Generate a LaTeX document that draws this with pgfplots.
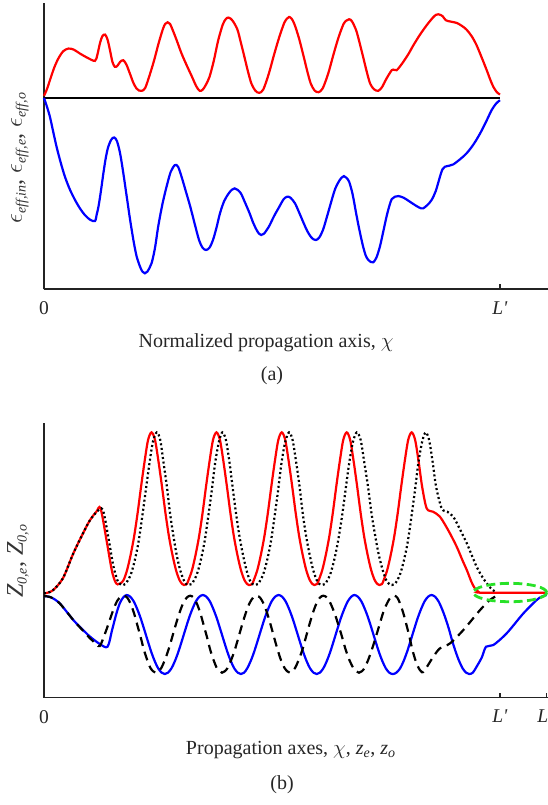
\documentclass[border=0pt]{standalone}
\usepackage{amsmath}
\usepackage{fontspec}
\setmainfont{Liberation Serif}
\usepackage{pgfplots}
\pgfplotsset{compat=1.18}

\definecolor{curvered}{rgb}{1,0,0}
\definecolor{curveblue}{rgb}{0,0,1}
\definecolor{markgreen}{RGB}{40,225,40}
\definecolor{axisgray}{RGB}{35,35,35}

% symbol with a smaller italic subscript
\newcommand{\sub}[1]{\text{\fontsize{14bp}{14bp}\selectfont\itshape #1}}

\pgfplotsset{
  profile/.style={
    scale only axis, width=504bp,
    axis x line=bottom, axis y line=left,
    axis line style={-, line width=1.6bp, axisgray},
    xmin=0, xmax=1443.5,
    ytick=\empty,
    xtick align=inside,
    major tick length=5bp,
    tick style={line width=1.4bp, axisgray},
    xticklabel style={font=\fontsize{19.5bp}{22bp}\selectfont, text=black!85, yshift=-9bp},
    label style={font=\fontsize{20bp}{24bp}\selectfont, text=black!85},
    ylabel style={font=\fontsize{24bp}{26bp}\selectfont, text=black!80},
    clip=false,
  },
  curve/.style={smooth, tension=0.5, line width=2.2bp},
}

\begin{document}
\begin{tikzpicture}

% (a) effective permittivities along the normalized axis
\begin{axis}[profile,
  at={(44bp,515.7bp)}, anchor=south west, height=286bp,
  ymin=-575, ymax=284,
  xtick={0,1306}, xticklabels={0,\textit{L\textquotesingle}},
  xlabel={Normalized propagation axis, $\chi$},
  xlabel style={at={(axis description cs:0.4405,0)}, anchor=center, yshift=-53bp},
  ylabel={$\epsilon_{\sub{eff,in}}$, $\epsilon_{\sub{eff,e}}$, $\epsilon_{\sub{eff,o}}$},
  ylabel style={at={(axis description cs:-0.0476,0.459)}, anchor=center},
]
\addplot[black, line width=2.6bp] coordinates {(0,0) (1306,0)};
\addplot[curve, curvered] coordinates {
(0,6) (8,25) (17,53) (29,90) (41,118) (55,140) (70,148) (85,145) (103,133) (125,120)
(146,111) (153,130) (160,163) (167,185) (175,190) (182,175) (189,143) (196,108) (203,93)
(210,96) (218,108) (227,113) (236,100) (246,73) (256,45) (265,28) (272,22) (280,21)
(290,30) (304,73) (316,115) (328,163) (340,205) (347,222) (354,227) (361,222) (370,200)
(380,173) (394,133) (409,97) (424,63) (436,35) (446,21) (455,25) (464,40) (474,63)
(486,110) (499,173) (512,220) (521,237) (529,241) (540,232) (554,205) (564,165) (574,123)
(584,80) (594,43) (605,22) (616,15) (628,25) (644,73) (659,130) (674,183) (688,225)
(696,238) (702,243) (709,238) (717,222) (730,180) (744,123) (754,80) (764,43) (775,22)
(786,17) (798,28) (814,73) (829,130) (844,183) (858,222) (866,232) (874,236) (882,230)
(894,203) (904,165) (914,123) (924,80) (934,43) (945,26) (957,21) (968,32) (981,58)
(996,83) (1003,84) (1010,83) (1020,95) (1029,108) (1044,132) (1058,158) (1077,190)
(1096,218) (1113,240) (1122,249) (1129,251) (1136,249) (1142,245) (1151,233) (1165,229)
(1182,225) (1197,216) (1210,205) (1225,185) (1239,158) (1254,120) (1268,83) (1278,55)
(1287,33) (1297,17) (1306,10)};
\addplot[curve, curveblue] coordinates {
(0,0) (8,-25) (17,-57) (26,-100) (36,-147) (48,-195) (60,-237) (74,-275) (89,-307)
(103,-332) (117,-352) (132,-366) (146,-370) (151,-350) (156,-327) (163,-280) (170,-227)
(177,-180) (184,-147) (193,-125) (201,-119) (209,-130) (218,-167) (227,-225) (237,-297)
(246,-362) (256,-427) (265,-475) (275,-507) (282,-522) (289,-527) (296,-522) (308,-497)
(318,-450) (327,-387) (339,-320) (351,-267) (363,-222) (375,-202) (384,-207) (394,-237)
(406,-280) (419,-327) (432,-380) (444,-427) (454,-450) (464,-457) (474,-450) (484,-427)
(494,-390) (504,-347) (516,-310) (529,-287) (538,-276) (546,-272) (554,-276) (564,-287)
(576,-315) (589,-347) (599,-375) (609,-397) (616,-408) (622,-412) (630,-408) (644,-387)
(659,-355) (674,-327) (686,-305) (696,-297) (706,-300) (719,-317) (731,-345) (744,-377)
(754,-400) (764,-417) (772,-425) (779,-427) (788,-420) (799,-397) (811,-355) (824,-307)
(834,-273) (844,-252) (852,-240) (859,-235) (866,-240) (874,-252) (884,-290) (894,-347)
(904,-400) (914,-447) (922,-475) (929,-487) (936,-493) (943,-494) (952,-480) (962,-447)
(971,-405) (981,-357) (989,-325) (996,-304) (1005,-297) (1015,-295) (1030,-300) (1048,-312)
(1067,-325) (1080,-332) (1086,-332) (1098,-322) (1110,-307) (1122,-280) (1134,-237)
(1141,-215) (1148,-207) (1160,-204) (1172,-200) (1191,-185) (1210,-167) (1230,-140)
(1249,-107) (1266,-72) (1282,-37) (1295,-17) (1306,-7)};
\end{axis}

% (b) characteristic impedances along the propagation axes
\begin{axis}[profile,
  at={(44bp,107.3bp)}, anchor=south west, height=275bp,
  ymin=-313, ymax=512,
  xtick={0,1306,1439.7}, xticklabels={0,\textit{L\textquotesingle},\textit{L}},
  xticklabel style={xshift={ifthenelse(\ticknum==2,-4,0)*1bp}},
  xlabel={Propagation axes, $\chi$, $\textit{z}_{\textit{e}}$, $\textit{z}_{\textit{o}}$},
  xlabel style={at={(axis description cs:0.4897,0)}, anchor=center, yshift=-52bp},
  ylabel={$\textit{Z}_{\sub{0,e}}$, $\textit{Z}_{\sub{0,o}}$},
  ylabel style={at={(axis description cs:-0.0516,0.497)}, anchor=center},
]
\addplot[curve, curveblue] coordinates {
(0,-8) (20,-12) (45,-30) (84,-80) (110,-108) (132,-130) (160,-152) (182,-160)
(195,-110) (207,-62) (217,-30) (227,-12) (237,-5)
(247,-10) (257,-24) (267,-47) (277,-75) (287,-108) (297,-142) (307,-175) (317,-203) (327,-225) (337,-238) (346,-242)
(355,-238) (365,-225) (375,-203) (385,-175) (395,-142) (405,-108) (415,-75) (425,-47) (435,-24) (445,-10) (455,-5)
(465,-10) (475,-24) (485,-47) (495,-75) (505,-108) (515,-142) (525,-175) (535,-203) (545,-225) (555,-238) (564,-242)
(573,-238) (582,-225) (592,-203) (602,-175) (612,-142) (622,-108) (632,-75) (642,-47) (652,-24) (662,-10) (672,-5)
(682,-10) (692,-24) (702,-47) (712,-75) (722,-108) (732,-142) (742,-175) (752,-203) (762,-225) (772,-238) (781,-242)
(790,-238) (800,-225) (810,-203) (820,-175) (830,-142) (840,-108) (850,-75) (860,-47) (870,-24) (880,-10) (889,-5)
(899,-10) (909,-24) (919,-47) (929,-75) (939,-108) (949,-142) (959,-175) (969,-203) (979,-225) (989,-238) (999,-242)
(1009,-238) (1020,-225) (1030,-203) (1040,-175) (1050,-142) (1060,-108) (1070,-75) (1080,-47) (1090,-24) (1100,-10) (1110,-5)
(1120,-10) (1130,-24) (1140,-47) (1150,-75) (1160,-108) (1169,-142) (1179,-175) (1189,-203) (1199,-225) (1209,-238) (1218,-242)
(1228,-238) (1239,-220) (1254,-192) (1266,-160) (1287,-155) (1325,-120) (1373,-60) (1411,-20) (1425,-10) (1440,-5)};
\addplot[curve, curvered] coordinates {
(0,0) (24,8) (54,45) (84,120) (114,185) (132,220) (150,245) (162,255)
(179,160) (194,70) (204,35) (211,27) (219,30)
(228,40) (238,70) (248,115) (258,170) (268,240) (278,320) (288,395) (298,460) (308,483)
(318,460) (328,395) (338,320) (348,240) (358,170) (368,115) (378,70) (388,40) (396,28) (401,25)
(409,28) (414,40) (424,70) (434,115) (444,170) (454,240) (464,320) (474,395) (484,460) (494,483)
(504,460) (514,395) (524,320) (534,240) (544,170) (554,115) (564,70) (574,40) (582,28) (587,25)
(596,28) (601,40) (611,70) (621,115) (631,170) (641,240) (651,320) (661,395) (671,460) (681,483)
(691,460) (701,395) (711,320) (721,240) (731,170) (741,115) (751,70) (761,40) (769,28) (774,25)
(782,28) (787,40) (797,70) (807,115) (817,170) (827,240) (837,320) (847,395) (857,460) (867,483)
(877,460) (887,395) (897,320) (907,240) (917,170) (927,115) (937,70) (947,40) (955,28) (961,25)
(968,28) (973,40) (983,70) (993,115) (1003,170) (1013,240) (1023,320) (1033,395) (1043,460) (1053,483)
(1063,460) (1073,395) (1083,320) (1096,255)
(1114,245) (1134,230) (1159,187) (1182,140) (1199,98) (1211,70) (1224,35) (1234,15) (1244,5)
(1254,2) (1439,2)};
\addplot[curve, black, dash pattern=on 9bp off 6bp] coordinates {
(0,-8) (20,-12) (45,-30) (84,-80) (110,-110) (132,-135) (150,-152) (160,-158)
(175,-120) (190,-75) (200,-45) (210,-22) (220,-10) (229,-7)
(238.6,-13) (248,-31) (257.7,-59) (267,-94) (277,-132) (286,-169) (296,-201) (305,-224) (313,-234) (320,-238)
(327.4,-234) (335.8,-224) (345.7,-201) (356.6,-169) (367,-132) (377.4,-94) (387.8,-59) (398,-31) (408.6,-13) (419,-7)
(428.6,-13) (438,-31) (447.7,-59) (457,-94) (467,-132) (476,-169) (486,-201) (495,-224) (503,-234) (510,-238)
(517.4,-234) (525.8,-224) (535.7,-201) (546.6,-169) (557,-132) (567.4,-94) (577.8,-59) (588,-31) (598.6,-13) (609,-7)
(619,-13) (629,-31) (639,-59) (649,-94) (659,-132) (669,-169) (679,-201) (689,-224) (697,-234) (704,-238)
(711,-234) (719,-224) (729,-201) (740,-169) (750,-132) (760,-94) (770,-59) (780,-31) (790,-13) (800,-7)
(811,-13) (821,-31) (832,-59) (843,-94) (854,-132) (864,-169) (875,-201) (886,-224) (894,-234) (902,-238)
(910,-234) (918,-224) (928,-201) (939,-169) (950,-132) (961,-94) (971,-59) (982,-31) (992,-13) (1003,-7)
(1012,-13) (1020,-31) (1029,-59) (1038,-94) (1047,-132) (1055,-169) (1064,-201) (1073,-224) (1080,-234) (1086,-236)
(1100,-215) (1115,-190) (1134,-165) (1163,-150) (1201,-110) (1249,-50) (1277,-20) (1296,-8)};
\addplot[curve, black, dash pattern=on 2bp off 2.6bp] coordinates {
(0,0) (24,8) (54,45) (84,120) (114,185) (132,220) (150,243) (168,252)
(184,170) (198,85) (210,40) (218,28) (222,25)
(233,28) (248,55) (259,95) (270,150) (280,220) (291,305) (302,390) (312,455) (323,483)
(333,460) (342,395) (352,320) (361,240) (371,170) (380,115) (390,70) (400,40) (407,28) (414,25)
(423,28) (437,55) (448,95) (459,150) (469,220) (480,305) (490,390) (501,455) (511,483)
(521,460) (531,395) (540,320) (550,240) (560,170) (570,115) (580,70) (589,40) (597,28) (604,25)
(613,28) (627,55) (638,95) (649,150) (659,220) (670,305) (680,390) (691,455) (702,483)
(712,460) (722,395) (732,320) (741,240) (751,170) (761,115) (771,70) (781,40) (789,28) (796,25)
(805,28) (819,55) (830,95) (841,150) (852,220) (863,305) (874,390) (885,455) (896,483)
(907,460) (917,395) (928,320) (938,240) (949,170) (959,115) (970,70) (980,40) (989,28) (996,25)
(1005,28) (1019,55) (1030,95) (1041,150) (1051,220) (1062,305) (1072,390) (1083,455) (1093,483)
(1103,460) (1113,395) (1123,320) (1139,255)
(1155,245) (1172,230) (1190,195) (1211,150) (1225,115) (1239,80) (1252,55) (1268,30) (1280,15) (1292,5)};
\draw[markgreen, line width=2.8bp, dash pattern=on 9bp off 4.5bp]
  (axis cs:1334.6,2.5) ellipse [x radius=36.7bp, y radius=9.2bp];
\end{axis}

\node[font=\fontsize{20bp}{24bp}\selectfont, text=black!85] at (272bp,429bp) {(a)};
\node[font=\fontsize{20bp}{24bp}\selectfont, text=black!85] at (282bp,20bp) {(b)};

\pgfresetboundingbox
\useasboundingbox (0,0) rectangle (548bp,805bp);
\end{tikzpicture}
\end{document}
